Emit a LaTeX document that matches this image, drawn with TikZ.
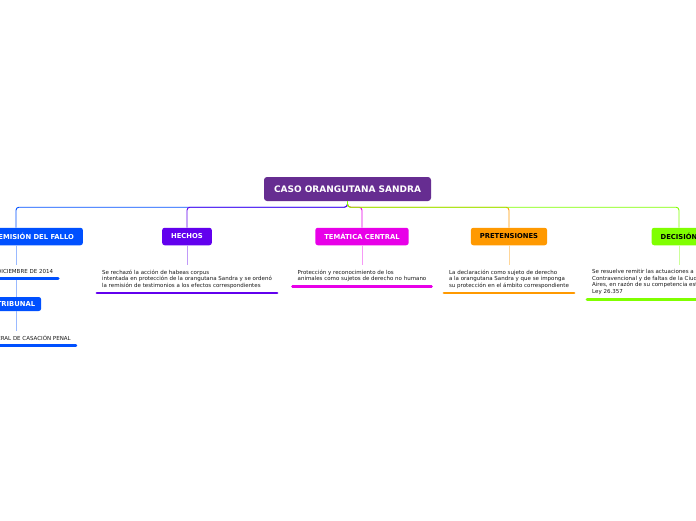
\documentclass[tikz,border=0pt]{standalone}
\usepackage{fontspec}
\setmainfont{DejaVu Sans}
\definecolor{rootcol}{HTML}{662D91}
\definecolor{fechacol}{HTML}{0050FF}
\definecolor{hechoscol}{HTML}{6200EE}
\definecolor{temacol}{HTML}{E800E8}
\definecolor{pretcol}{HTML}{FF9900}
\definecolor{deccol}{HTML}{80FF00}

\begin{document}
\begin{tikzpicture}[x=1pt,y=-1pt,
	rootbox/.style={fill=rootcol,text=white,rounded corners=3pt,inner xsep=10pt,minimum height=24pt,font=\fontsize{9}{10}\selectfont\bfseries},
	topic/.style={fill=#1,rounded corners=2.5pt,inner xsep=9pt,minimum height=17.5pt,font=\fontsize{6.8}{8}\selectfont\bfseries},
	subtopic/.style={fill=#1,rounded corners=2.5pt,inner xsep=6pt,minimum height=14pt,font=\fontsize{6.8}{8}\selectfont\bfseries},
	note/.style={align=left,inner xsep=5pt,inner ysep=4.5pt,font=\fontsize{5.5}{6.5}\selectfont,text=black!90,anchor=north},
	branch/.style={rounded corners=3pt,line width=0.9pt},
	stem/.style={line width=0.9pt,#1!40},
	underline/.style={line width=2.6pt,line cap=round,#1}]
	\useasboundingbox (0,0) rectangle (696,520);
	\fill[white] (0,0) rectangle (696,520);
	\clip (0,0) rectangle (696,520);

	% central topic
	\node[rootbox] (root) at (347.5,189) {CASO ORANGUTANA SANDRA};

	% main topics
	\node[topic=fechacol,text=white] (fecha) at (16,236.5) {FECHA DE EMISIÓN DEL FALLO};
	\node[topic=hechoscol,text=white] (hechos) at (187,236.5) {HECHOS};
	\node[topic=temacol,text=white] (tema) at (362,236.5) {TEMÁTICA CENTRAL};
	\node[topic=pretcol,text=black] (pret) at (509,236.5) {PRETENSIONES};
	\node[topic=deccol,text=black] (dec) at (679,236.5) {DECISIÓN};

	% branches from the central topic
	\draw[branch,fechacol] (root.south) -- ++(0,6) -| (fecha.north);
	\draw[branch,hechoscol] (root.south) -- ++(0,6) -| (hechos.north);
	\draw[branch,temacol] (root.south) -- ++(0,6) -| (tema.north);
	\draw[branch,pretcol] (root.south) -- ++(0,6) -| (pret.north);
	\draw[branch,deccol] (root.south) -- ++(0,6) -| (dec.north);

	% notes
	\node[note] (fechatxt) at (16,265) {18 DE DICIEMBRE DE 2014};
	\node[subtopic=fechacol,text=white] (trib) at (16,304) {TRIBUNAL};
	\node[note] (tribtxt) at (16,331) {CÁMARA FEDERAL DE CASACIÓN PENAL};
	\node[note] (hechostxt) at (187,265) {Se rechazó la acción de habeas corpus\\intentada en protección de la orangutana Sandra y se ordenó\\la remisión de testimonios a los efectos correspondientes};
	\node[note] (tematxt) at (362,265) {Protección y reconocimiento de los\\animales como sujetos de derecho no humano};
	\node[note] (prettxt) at (509,265) {La declaración como sujeto de derecho\\a la orangutana Sandra y que se imponga\\su protección en el ámbito correspondiente};
	\node[note,anchor=north west] (dectxt) at (587,265) {Se resuelve remitir las actuaciones a la Justicia Penal,\\Contravencional y de faltas de la Ciudad Autónoma de Buenos\\Aires, en razón de su competencia establecida por la\\Ley 26.357};

	% stems and underlines
	\draw[stem=fechacol] (fecha) -- (fechatxt);
	\draw[stem=fechacol] (fechatxt) -- (trib);
	\draw[stem=fechacol] (trib) -- (tribtxt);
	\draw[stem=hechoscol] (hechos) -- (hechostxt);
	\draw[stem=temacol] (tema) -- (tematxt);
	\draw[stem=pretcol] (pret) -- (prettxt);
	\draw[stem=deccol] (dec) -- (dec |- dectxt.north);
	\foreach \t/\c in {fechatxt/fechacol,tribtxt/fechacol,hechostxt/hechoscol,tematxt/temacol,prettxt/pretcol,dectxt/deccol}
		\draw[underline=\c] (\t.south west) -- (\t.south east);
\end{tikzpicture}
\end{document}
